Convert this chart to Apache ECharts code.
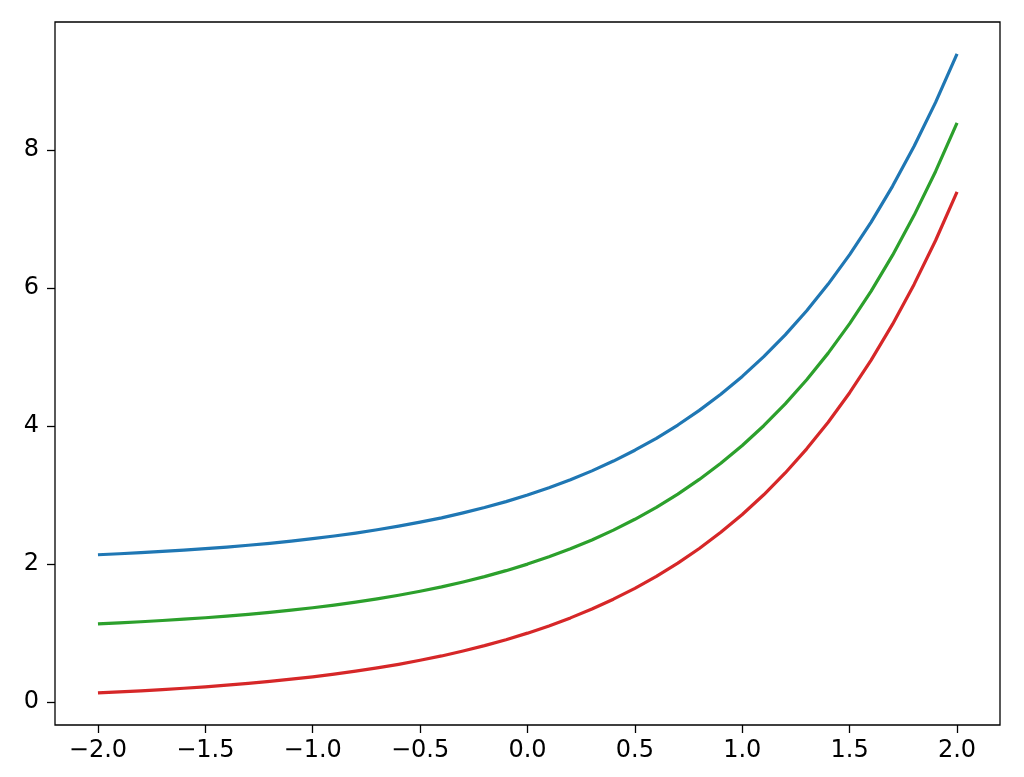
<!DOCTYPE html>
<html>
<head>
<meta charset="utf-8">
<script src="https://cdn.jsdelivr.net/npm/echarts@6/dist/echarts.min.js"></script>
<style>html,body{margin:0;padding:0;background:#fff}#c{width:1024px;height:777px}</style>
</head>
<body>
<div id="c"></div>
<script>
const xValues = [-2.0,-1.9,-1.8,-1.7,-1.6,-1.5,-1.4,-1.3,-1.2,-1.1,-1.0,-0.9,-0.8,-0.7,-0.6,-0.5,-0.4,-0.3,-0.2,-0.1,0.0,0.1,0.2,0.3,0.4,0.5,0.6,0.7,0.8,0.9,1.0,1.1,1.2,1.3,1.4,1.5,1.6,1.7,1.8,1.9,2.0];
const blueValues  = [2.135,2.150,2.165,2.183,2.202,2.223,2.247,2.273,2.301,2.333,2.368,2.407,2.449,2.497,2.549,2.607,2.670,2.741,2.819,2.905,3.000,3.105,3.221,3.350,3.492,3.649,3.822,4.014,4.226,4.460,4.718,5.004,5.320,5.669,6.055,6.482,6.953,7.474,8.050,8.686,9.389];
const greenValues = [1.135,1.150,1.165,1.183,1.202,1.223,1.247,1.273,1.301,1.333,1.368,1.407,1.449,1.497,1.549,1.607,1.670,1.741,1.819,1.905,2.000,2.105,2.221,2.350,2.492,2.649,2.822,3.014,3.226,3.460,3.718,4.004,4.320,4.669,5.055,5.482,5.953,6.474,7.050,7.686,8.389];
const redValues   = [0.135,0.150,0.165,0.183,0.202,0.223,0.247,0.273,0.301,0.333,0.368,0.407,0.449,0.497,0.549,0.607,0.670,0.741,0.819,0.905,1.000,1.105,1.221,1.350,1.492,1.649,1.822,2.014,2.226,2.460,2.718,3.004,3.320,3.669,4.055,4.482,4.953,5.474,6.050,6.686,7.389];
const xTicks = [-2.0,-1.5,-1.0,-0.5,0.0,0.5,1.0,1.5,2.0];
const yTicks = [0,2,4,6,8];

function pairs(ys){ return xValues.map((x,i)=>[x, ys[i]]); }
function fmtX(v){ const s = Math.abs(v).toFixed(1); return (v < -1e-9 ? '\u2212' : '') + s; }

const chart = echarts.init(document.getElementById('c'));
const font = 'DejaVu Sans';
chart.setOption({
  animation: false,
  backgroundColor: '#fff',
  grid: { left: 55, right: 24, top: 22, bottom: 52, show: true, borderColor: '#000', borderWidth: 1.3, backgroundColor: 'transparent' },
  xAxis: {
    type: 'value', min: -2.2, max: 2.2,
    splitLine: { show: false },
    axisLine: { show: false, onZero: false },
    axisTick: { show: true, length: 8, inside: false, customValues: xTicks, lineStyle: { color: '#000', width: 1.3 } },
    axisLabel: { customValues: xTicks, formatter: fmtX, color: '#000', fontFamily: font, fontSize: 24, margin: 14 }
  },
  yAxis: {
    type: 'value', min: -0.33, max: 9.85,
    splitLine: { show: false },
    axisLine: { show: false, onZero: false },
    axisTick: { show: true, length: 8, customValues: yTicks, lineStyle: { color: '#000', width: 1.3 } },
    axisLabel: { customValues: yTicks, formatter: v => String(v), color: '#000', fontFamily: font, fontSize: 24, margin: 16 }
  },
  series: [
    { type: 'line', data: pairs(blueValues), smooth: false, showSymbol: false, lineStyle: { color: '#1f77b4', width: 3.2, join: 'round' }, itemStyle: { color: '#1f77b4' } },
    { type: 'line', data: pairs(greenValues), smooth: false, showSymbol: false, lineStyle: { color: '#2ca02c', width: 3.2, join: 'round' }, itemStyle: { color: '#2ca02c' } },
    { type: 'line', data: pairs(redValues), smooth: false, showSymbol: false, lineStyle: { color: '#d62728', width: 3.2, join: 'round' }, itemStyle: { color: '#d62728' } }
  ]
});
</script>
</body>
</html>
